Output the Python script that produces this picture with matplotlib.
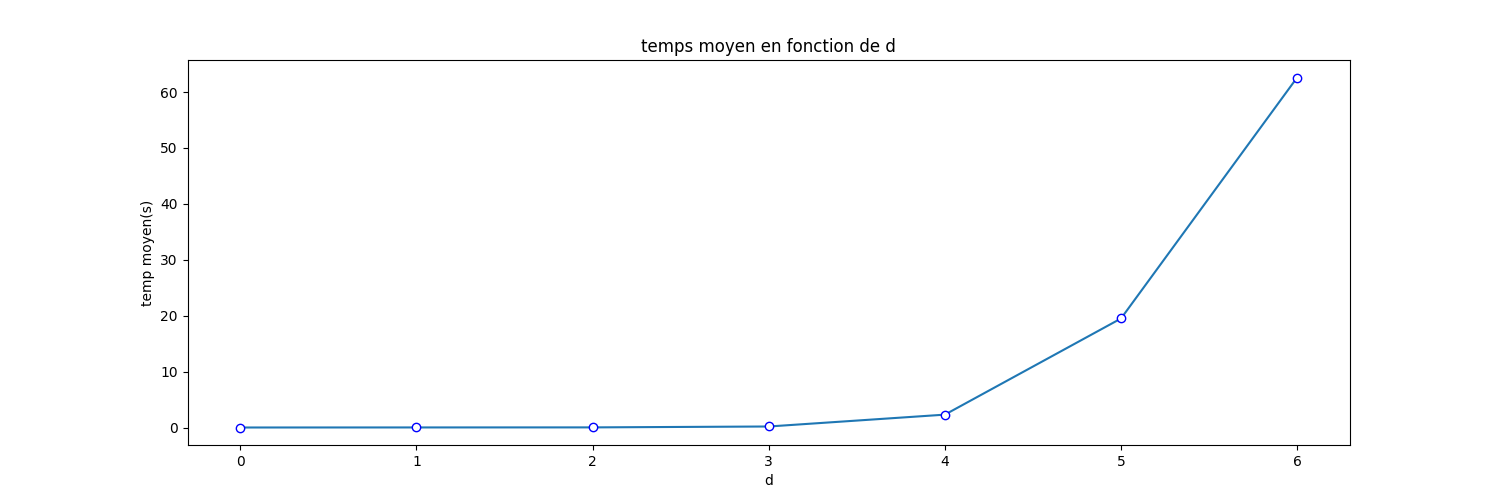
import matplotlib
matplotlib.use('Agg')
import matplotlib.pyplot as plt

d = [0, 1, 2, 3, 4, 5, 6]
temps = [0.0, 0.01, 0.02, 0.18, 2.3, 19.5, 62.6]

plt.figure(figsize=(15, 5))
plt.plot(d, temps, marker='o', markerfacecolor='white', markeredgecolor='b')
plt.title('temps moyen en fonction de d')
plt.xlabel('d')
plt.ylabel('temp moyen(s)')
plt.savefig('out.png', dpi=100)
